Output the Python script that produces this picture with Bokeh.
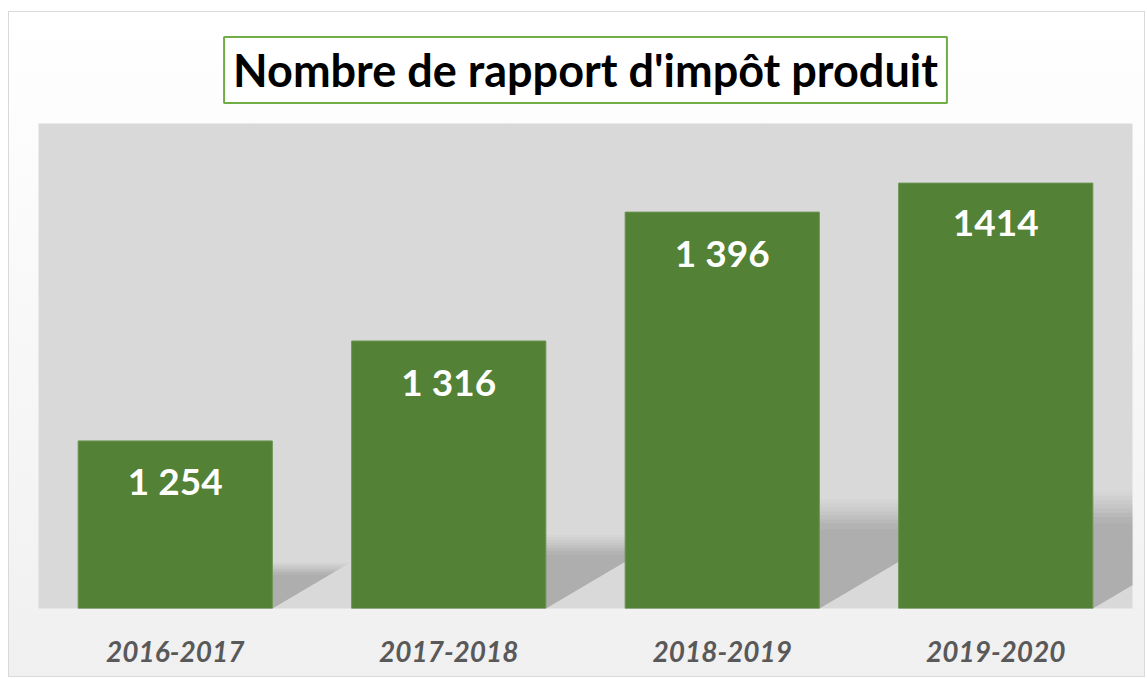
from bokeh.plotting import figure
from bokeh.models import ColumnDataSource, Range1d
from bokeh.core.properties import value
from bokeh.embed import file_html
from bokeh.resources import INLINE

# ---- data ----
categories = ["2016-2017", "2017-2018", "2018-2019", "2019-2020"]
counts = [1254, 1316, 1396, 1414]
count_labels = ["1 254", "1 316", "1 396", "1414"]
title_text = "Nombre de rapport d'impôt produit"

Y_MIN, Y_MAX = 1150, 1451
BAR_W = 0.71
FONT = "Lato"
W, H = 1137, 666
BL, BR, BT, BB = 29, 14, 111, 70

p = figure(
    x_range=categories,
    y_range=Range1d(Y_MIN, Y_MAX),
    width=W, height=H,
    output_backend="svg", toolbar_location=None,
    min_border_left=BL, min_border_right=BR,
    min_border_top=BT, min_border_bottom=BB,
    title=title_text,
)
p.styles = {"border": "1px solid #d9d9d9",
            "margin-left": "8px", "margin-top": "11px",
            "background": "linear-gradient(to bottom, #ffffff, #f0f0f0)"}
p.border_fill_color = None
p.background_fill_color = "#d9d9d9"
p.outline_line_color = None
p.xgrid.visible = False
p.ygrid.visible = False
p.yaxis.visible = False

# ---- boxed title ----
t = p.title
t.align = "center"
t.text_font = FONT
t.text_font_style = "bold"
t.text_font_size = "45px"
t.text_color = "black"
t.background_fill_color = "white"
t.border_line_color = "#70ad47"
t.border_line_width = 2
t.padding = dict(left=9, right=9, top=6, bottom=6)
t.standoff = 41

# ---- perspective shadows (derived from bar data) ----
frame_h = H - BT - BB
px_per_unit = frame_h / (Y_MAX - Y_MIN)
frame_w = W - BL - BR
px_per_cat = frame_w / len(categories)
layers = [(0.275, 0.035), (0.265, 0.04), (0.255, 0.05), (0.245, 0.06),
          (0.235, 0.07), (0.225, 0.075), (0.215, 0.085), (0.2, 0.07)]
for k, alpha in layers:
    xs_list, ys_list = [], []
    for i, v in enumerate(counts):
        h_px = (v - Y_MIN) * px_per_unit
        dx = 0.39 * h_px / px_per_cat * (k / 0.23)
        top = Y_MIN + k * (v - Y_MIN)
        L = i + 0.5 - BAR_W / 2
        R = i + 0.5 + BAR_W / 2
        xs_list.append([L, R, R + dx, L + dx])
        ys_list.append([Y_MIN, Y_MIN, top, top])
    p.patches(xs_list, ys_list, fill_color="#707070", fill_alpha=alpha,
              line_color=None)

src = ColumnDataSource(dict(cat=categories, v=counts, lab=count_labels))
p.vbar(x="cat", top="v", bottom=Y_MIN, width=BAR_W, source=src,
       fill_color="#538135", line_color="#6a9450", line_width=1)

p.text(x="cat", y="v", text="lab", source=src, y_offset=40,
       text_align="center", text_baseline="middle",
       text_color="white", text_font=value(FONT), text_font_style="bold",
       text_font_size="37px")

# ---- x axis ----
ax = p.xaxis[0]
ax.axis_line_color = None
ax.major_tick_line_color = None
ax.minor_tick_line_color = None
ax.major_label_standoff = 26
ax.major_label_text_font = FONT
ax.major_label_text_font_style = "bold italic"
ax.major_label_text_font_size = "28px"
ax.major_label_text_color = "#595959"

open("out.html", "w").write(file_html(p, INLINE))
